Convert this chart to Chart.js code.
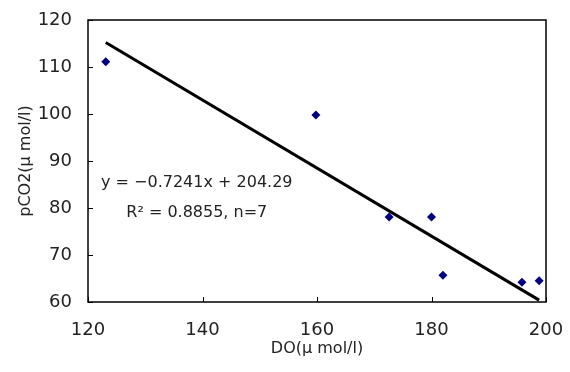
<!DOCTYPE html>
<html>
<head>
<meta charset="utf-8">
<script src="https://cdn.jsdelivr.net/npm/chart.js@4/dist/chart.umd.min.js"></script>
<style>
  html, body { margin: 0; padding: 0; background: #fff; }
  #wrap { width: 570px; height: 372px; }
</style>
</head>
<body>
<div id="wrap"><canvas id="chart" width="570" height="372"></canvas></div>
<script>
// observed points (DO, pCO2)
const doValues = [123.1, 159.8, 172.6, 180.0, 182.0, 195.8, 198.8];
const pco2Values = [111.1, 99.8, 78.1, 78.1, 65.7, 64.2, 64.5];

// regression line ends
const fitX = [123.1, 198.8];
const fitY = [115.2, 60.4];

const xTicks = [120, 140, 160, 180, 200];
const yTicks = [60, 70, 80, 90, 100, 110, 120];

const eqLines = ['y = \u22120.7241x + 204.29', 'R\u00b2 = 0.8855, n=7'];
const eqAnchor = { x: 139.0, y: [85.3, 78.9] };

const font = "'DejaVu Sans ExtraLight', 'DejaVu Sans', sans-serif";
const textColor = '#222';

const boxPlugin = {
    id: 'box',
    afterDraw(chart) {
        const { ctx, chartArea: a, scales } = chart;
        ctx.save();
        ctx.strokeStyle = '#000';
        ctx.lineWidth = 1.5;
        ctx.strokeRect(a.left, a.top, a.right - a.left, a.bottom - a.top);
        // inside tick marks
        ctx.lineWidth = 1;
        xTicks.forEach(v => {
            const px = Math.round(scales.x.getPixelForValue(v)) + 0.5;
            ctx.beginPath();
            ctx.moveTo(px, a.bottom);
            ctx.lineTo(px, a.bottom - 5);
            ctx.stroke();
        });
        yTicks.forEach(v => {
            const py = Math.round(scales.y.getPixelForValue(v)) + 0.5;
            ctx.beginPath();
            ctx.moveTo(a.left, py);
            ctx.lineTo(a.left + 5, py);
            ctx.stroke();
        });
        // equation text
        ctx.fillStyle = textColor;
        ctx.font = '16px ' + font;
        ctx.textAlign = 'center';
        ctx.textBaseline = 'middle';
        const cx = scales.x.getPixelForValue(eqAnchor.x);
        eqLines.forEach((t, i) => {
            ctx.fillText(t, cx, scales.y.getPixelForValue(eqAnchor.y[i]));
        });
        ctx.restore();
    }
};

new Chart(document.getElementById('chart'), {
    type: 'scatter',
    data: {
        datasets: [
            {
                label: 'data',
                data: doValues.map((x, i) => ({ x, y: pco2Values[i] })),
                pointStyle: 'rectRot',
                pointRadius: 4.5,
                backgroundColor: '#000080',
                borderColor: '#000080',
                borderWidth: 0
            },
            {
                label: 'fit',
                type: 'line',
                data: fitX.map((x, i) => ({ x, y: fitY[i] })),
                borderColor: '#000',
                borderWidth: 3,
                pointRadius: 0,
                fill: false
            }
        ]
    },
    options: {
        responsive: false,
        animation: false,
        layout: { padding: { top: 20, right: 24, left: 0, bottom: 0 } },
        plugins: { legend: { display: false }, tooltip: { enabled: false } },
        scales: {
            x: {
                type: 'linear',
                min: 120, max: 200,
                afterBuildTicks: s => { s.ticks = xTicks.map(v => ({ value: v })); },
                afterFit: s => { s.height = 70; s.paddingLeft = 0; s.paddingRight = 0; },
                grid: { display: false, drawTicks: false },
                border: { display: false },
                ticks: { color: textColor, font: { family: font, size: 18 }, padding: 18 },
                title: {
                    display: true,
                    text: 'DO(\u03bc mol/l)',
                    color: textColor,
                    font: { family: font, size: 16 },
                    padding: { top: 0, bottom: 14 }
                }
            },
            y: {
                type: 'linear',
                min: 60, max: 120,
                afterBuildTicks: s => { s.ticks = yTicks.map(v => ({ value: v })); },
                afterFit: s => { s.width = 88; s.paddingTop = 0; s.paddingBottom = 0; },
                grid: { display: false, drawTicks: false },
                border: { display: false },
                ticks: { color: textColor, font: { family: font, size: 18 }, padding: 16 },
                title: {
                    display: true,
                    text: 'pCO2(\u03bc mol/l)',
                    color: textColor,
                    font: { family: font, size: 16 },
                    padding: { top: 16, bottom: 0 }
                }
            }
        }
    },
    plugins: [boxPlugin]
});
</script>
</body>
</html>
